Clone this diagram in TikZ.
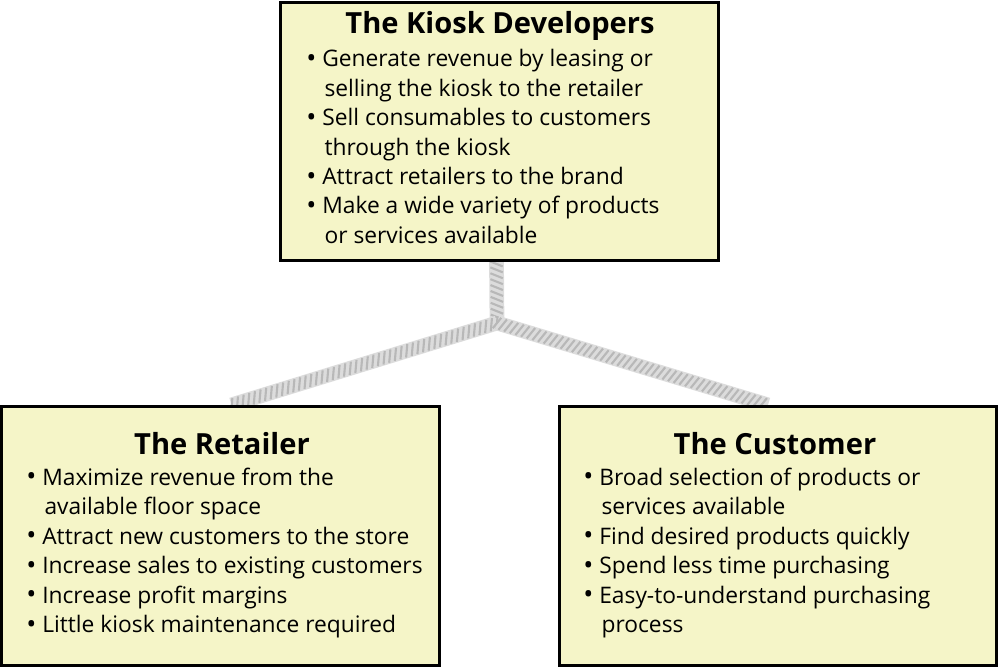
\documentclass[tikz,border=0pt]{standalone}
\usepackage{fontspec}
\setmainfont{Open Sans}
\usepackage{tikz}
\usetikzlibrary{positioning,decorations.markings,backgrounds}
\definecolor{boxfill}{RGB}{245,245,200}
\definecolor{ropegray}{RGB}{220,220,220}
\definecolor{ropeline}{RGB}{184,184,184}
\tikzstyle{block} = [draw, rectangle, line width=2.2pt, fill=boxfill, minimum width=10.925cm, minimum height=6.475cm, inner sep=0pt]
\tikzstyle{title} = [anchor=base, inner sep=0pt, font=\fontsize{20.7}{24}\selectfont\bfseries]
\tikzstyle{item} = [anchor=base west, inner sep=0pt, font=\fontsize{16.2}{19}\selectfont]
\tikzstyle{rope} = [line width=10.5pt, ropegray, postaction={decorate},
  decoration={markings, mark=between positions 0 and 1 step 4.2pt with {\draw[ropeline, line width=1.5pt] (-1.8pt,-4.4pt) -- (1.8pt,4.4pt);}}]
\newcommand{\bul}{\makebox[11.4pt][l]{\raisebox{-0.7pt}{\fontsize{19}{19}\selectfont\textbullet}}}
\newcommand{\cnt}{\hspace*{13pt}}

\begin{document}
\begin{tikzpicture}[x=0.025cm, y=-0.025cm]
    \useasboundingbox (0,0) rectangle (1000,669);
    % We start by placing the blocks
    \node [block, minimum width=10.95cm, minimum height=6.45cm] (dev) at (499.5,131.5) {};
    \node [block] (retail) at (220.5,536) {};
    \node [block] (cust) at (778,536) {};

    % Titles and bullet lines
    \node [title] (dev-title) at (500,34) {The Kiosk Developers};
    \node [title] (retail-title) at (222,454) {The Retailer};
    \node [title] (cust-title) at (775,454) {The Customer};
    \foreach \txt [count=\i] in {{\bul Generate revenue by leasing or}, {\cnt selling the kiosk to the retailer},
        {\bul Sell consumables to customers}, {\cnt through the kiosk}, {\bul Attract retailers to the brand},
        {\bul Make a wide variety of products}, {\cnt or services available}}
        \node [item] (dev-\i) at (306,{67+29.35*(\i-1)}) {\txt};
    \foreach \txt [count=\i] in {{\bul Maximize revenue from the}, {\cnt available floor space},
        {\bul Attract new customers to the store}, {\bul Increase sales to existing customers},
        {\bul Increase profit margins}, {\bul Little kiosk maintenance required}}
        \node [item] (retail-\i) at (26,{485+29.5*(\i-1)}) {\txt};
    \foreach \txt [count=\i] in {{\bul Broad selection of products or}, {\cnt services available},
        {\bul Find desired products quickly}, {\bul Spend less time purchasing},
        {\bul Easy-to-understand purchasing}, {\cnt process}}
        \node [item] (cust-\i) at (583,{485+29.5*(\i-1)}) {\txt};

    % Once the nodes are placed, the ropes go behind them
    \coordinate (split) at (497,323);
    \begin{pgfonlayer}{background}
        \draw [rope] (split) -- ([xshift=-0.075cm]dev.south);
        \draw [rope] (split) -- ([xshift=0.275cm]retail.north);
        \draw [rope] (split) -- ([xshift=-0.25cm]cust.north);
    \end{pgfonlayer}
\end{tikzpicture}
\end{document}
